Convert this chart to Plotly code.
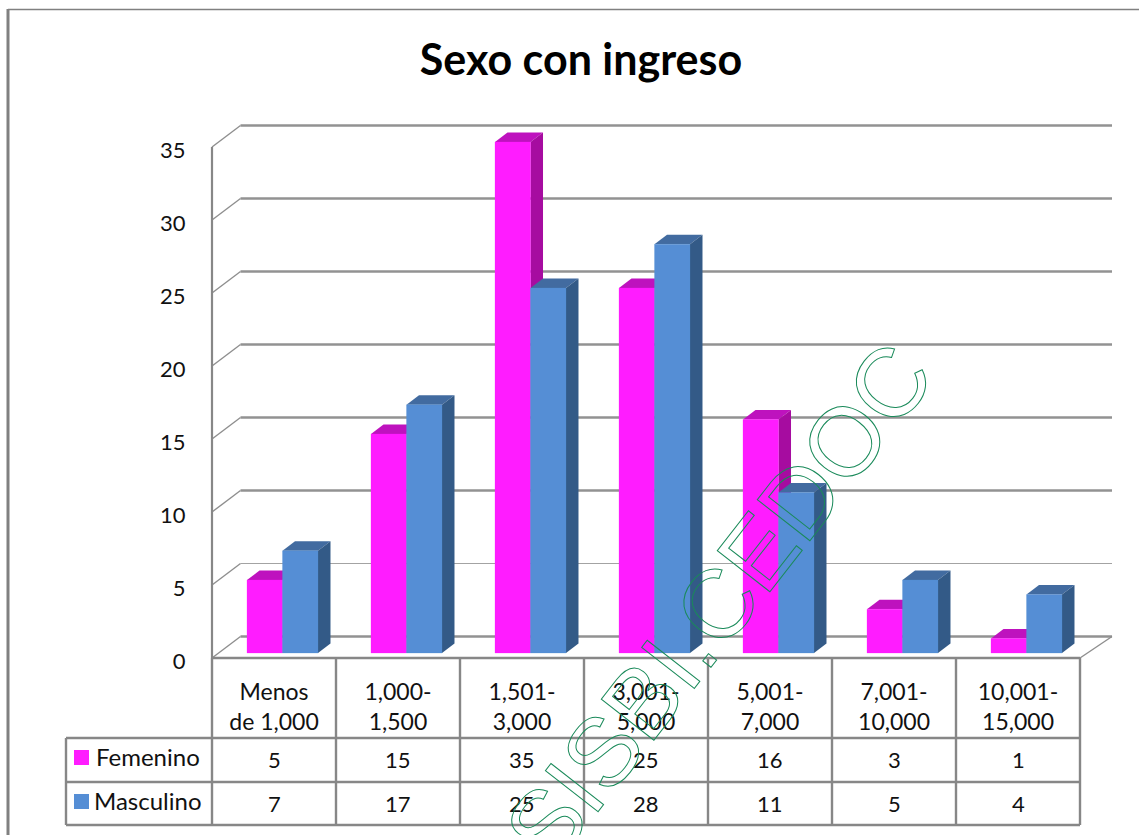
import plotly.graph_objects as go

categories = ["Menos<br>de 1,000", "1,000-<br>1,500", "1,501-<br>3,000", "3,001-<br>5,000",
              "5,001-<br>7,000", "7,001-<br>10,000", "10,001-<br>15,000"]
femenino = [5, 15, 35, 25, 16, 3, 1]
masculino = [7, 17, 25, 28, 11, 5, 4]
y_ticks = [0, 5, 10, 15, 20, 25, 30, 35]

W, H = 1139, 835
PX_COL = 124.0      # px per category
PX_UNIT = 14.6      # px per value unit
X0 = 274.0          # px of first category centre
Y0 = 653.0          # px of bar base (value 0)
GRAY = "#878787"
FONT = "Lato"


def dx(p):
    return p / PX_COL


def xd(p):
    return (p - X0) / PX_COL


def yd(p):
    return (Y0 - p) / PX_UNIT


BAR_W = 35.5 / PX_COL
OFF_F = xd(247)
OFF_M = xd(247 + 35.5)
DEPTH_X, DEPTH_Y = dx(12.5), 9.5 / PX_UNIT
WALL_X, WALL_Y = dx(28.5), 21.5 / PX_UNIT
FRONT_ZERO = yd(658)
XAX_L, XAX_R = xd(212), xd(1080)

shapes = []


def line(x0, y0, x1, y1, width=2.0, color=GRAY, xref="x", yref="y", layer="below"):
    shapes.append(dict(type="line", x0=x0, y0=y0, x1=x1, y1=y1, xref=xref, yref=yref, layer=layer,
                       line=dict(color=color, width=width)))


def poly(pts, color):
    path = "M" + " L".join(f"{a:.4f},{b:.4f}" for a, b in pts) + " Z"
    shapes.append(dict(type="path", path=path, xref="x", yref="y", layer="below",
                       fillcolor=color, line=dict(width=0)))


# walls
for v in y_ticks:
    yf = FRONT_ZERO + v
    yb = yf + WALL_Y
    w = 1.0 if v == 5 else 2.7
    c = "#a3a3a3" if v == 5 else "#929292"
    line(XAX_L, yf, XAX_L + WALL_X, yb, 1.4, "#8e8e8e")
    line(XAX_L + WALL_X, yb, XAX_R + dx(32), yb, w, c)
line(XAX_L, FRONT_ZERO, XAX_L, FRONT_ZERO + 35, 2.2)
line(XAX_R, FRONT_ZERO, XAX_R + dx(32), FRONT_ZERO + WALL_Y, 1.4, "#8e8e8e")

# depth faces of the bars
for i, (f, m) in enumerate(zip(femenino, masculino)):
    for off, v, top, side in ((OFF_F, f, "#BE12BE", "#A60CA0"), (OFF_M, m, "#426BA0", "#335A87")):
        a, b = i + off, i + off + BAR_W
        poly([(a, v), (a + DEPTH_X, v + DEPTH_Y), (b + DEPTH_X, v + DEPTH_Y), (b, v)], top)
        poly([(b, 0), (b + DEPTH_X, DEPTH_Y), (b + DEPTH_X, v + DEPTH_Y), (b, v)], side)

# data table grid
tbl_rows = [738, 782, 825]
line(XAX_L, yd(658), XAX_R, yd(658), 2.4, layer="above")
for r in tbl_rows:
    line(xd(66), yd(r), XAX_R, yd(r), 2.4, layer="above")
line(xd(66), yd(738), xd(66), yd(825), 2.4, layer="above")
for c in range(8):
    line(XAX_L + c, yd(658), XAX_L + c, yd(825), 2.4, layer="above")

# outer frame
line(xd(8), yd(9.5), xd(1139), yd(9.5), 1.5, "#808080")
line(xd(8), yd(9), xd(8), yd(835), 3, "#808080")

# legend keys in the table
for r, col in ((757.5, "#FF1CFF"), (801.5, "#558ED5")):
    shapes.append(dict(type="rect", xref="x", yref="y", x0=xd(74), x1=xd(89), y0=yd(r - 7.5), y1=yd(r + 7.5),
                       fillcolor=col, line=dict(width=0), layer="above"))

annotations = []


def note(text, x, y, size=22, **kw):
    annotations.append(dict(text=text, x=x, y=y, xref="x", yref="y", showarrow=False,
                            font=dict(family=FONT, size=size, color="#111111"), **kw))


for i, (f, m) in enumerate(zip(femenino, masculino)):
    note(str(f), i, yd(759))
    note(str(m), i, yd(803))
note("Femenino", xd(94), yd(756), size=24, xanchor="left")
note("Masculino", xd(92), yd(800), size=24, xanchor="left")

annotations.append(dict(text="SISBI.CEDOC", x=xd(718), y=yd(603), xref="x", yref="y", showarrow=False,
                        textangle=-52, font=dict(family="Liberation Sans", size=97, color="#1A8A5A")))

fig = go.Figure()
fig.add_bar(name="Femenino", x=list(range(7)), y=femenino, width=BAR_W, offset=OFF_F,
            marker=dict(color="#FF1CFF", line=dict(color="rgba(255,28,255,0.25)", width=1)))
fig.add_bar(name="Masculino", x=list(range(7)), y=masculino, width=BAR_W, offset=OFF_M,
            marker=dict(color="#558ED5", line=dict(color="rgba(85,142,213,0.25)", width=1)))

fig.update_layout(
    width=W, height=H, margin=dict(l=0, r=0, t=0, b=0), autosize=False,
    paper_bgcolor="white", plot_bgcolor="rgba(0,0,0,0)", showlegend=False, barmode="overlay",
    title=dict(text="<b>Sexo con ingreso</b>", x=581 / W, xanchor="center", y=1 - 60 / H, yanchor="middle",
               font=dict(family=FONT, size=43, color="#000000")),
    shapes=shapes, annotations=annotations,
    font=dict(family=FONT, size=22, color="#111111"),
    xaxis=dict(range=[xd(0), xd(W)], anchor="free", position=(H - 658) / H, side="bottom",
               tickvals=list(range(7)), ticktext=categories, showgrid=False, zeroline=False, showline=False,
               ticks="outside", ticklen=13, tickcolor="rgba(0,0,0,0)", tickangle=0,
               tickfont=dict(family=FONT, size=23, color="#111111")),
    yaxis=dict(range=[yd(H), yd(0)], anchor="free", position=212 / W, side="left",
               tickvals=[v + yd(661) for v in y_ticks], ticktext=[str(v) for v in y_ticks],
               showgrid=False, zeroline=False, showline=False,
               ticks="outside", ticklen=22, tickcolor="rgba(0,0,0,0)",
               tickfont=dict(family=FONT, size=22, color="#111111")),
)

page_css = ("var s=document.createElement('style');"
            "s.textContent='html,body{margin:0;padding:0;overflow:hidden}"
            ".annotation-text[data-unformatted=\"SISBI.CEDOC\"]"
            "{fill:none!important;stroke:#1A8A5A;stroke-width:1px;}';"
            "document.head.appendChild(s);")
fig.write_html("out.html", post_script=page_css, config={"displayModeBar": False})
